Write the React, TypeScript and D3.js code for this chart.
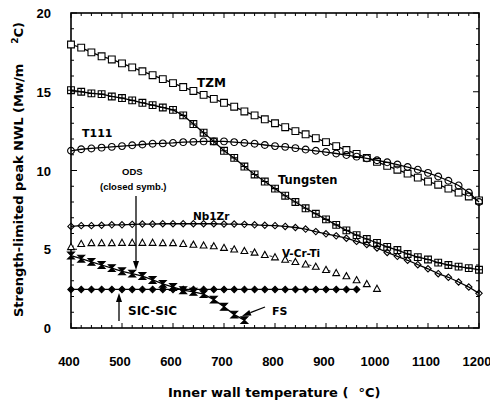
import React, { useRef, useEffect } from "react";
import * as d3 from "d3";

// inner wall temperature grid (°C)
const temps = [
  400, 420, 440, 460, 480, 500, 520, 540, 560, 580, 600, 620, 640, 660, 680, 700,
  720, 740, 760, 780, 800, 820, 840, 860, 880, 900, 920, 940, 960, 980, 1000,
  1020, 1040, 1060, 1080, 1100, 1120, 1140, 1160, 1180, 1200,
];

// strength-limited peak NWL (MW/m2), one value per temperature
const tzm = [
  18.0, 17.8, 17.5, 17.25, 17.05, 16.8, 16.55, 16.3, 16.05, 15.8, 15.55, 15.3,
  15.05, 14.8, 14.55, 14.3, 14.05, 13.75, 13.5, 13.25, 13.0, 12.75, 12.5, 12.3,
  12.05, 11.8, 11.55, 11.3, 11.05, 10.8, 10.55, 10.3, 10.05, 9.8, 9.55, 9.3,
  9.1, 8.85, 8.6, 8.35, 8.1,
];
const tungsten = [
  15.1, 15.0, 14.9, 14.85, 14.7, 14.6, 14.45, 14.3, 14.15, 14.0, 13.85, 13.5,
  12.95, 12.4, 11.85, 11.25, 10.8, 10.25, 9.75, 9.3, 8.85, 8.4, 8.0, 7.6, 7.25,
  6.9, 6.55, 6.2, 5.9, 5.65, 5.4, 5.15, 4.95, 4.7, 4.5, 4.35, 4.15, 4.0, 3.9,
  3.8, 3.7,
];
const t111 = [
  11.25, 11.35, 11.4, 11.45, 11.5, 11.55, 11.6, 11.65, 11.7, 11.72, 11.75, 11.8,
  11.82, 11.85, 11.85, 11.85, 11.8, 11.75, 11.7, 11.62, 11.55, 11.5, 11.42,
  11.33, 11.25, 11.17, 11.08, 10.98, 10.88, 10.77, 10.65, 10.52, 10.38, 10.22,
  10.05, 9.85, 9.62, 9.35, 9.05, 8.6, 8.0,
];
const nb1zr = [
  6.45, 6.5, 6.5, 6.52, 6.55, 6.55, 6.58, 6.6, 6.6, 6.62, 6.62, 6.62, 6.62,
  6.62, 6.62, 6.6, 6.6, 6.58, 6.55, 6.52, 6.5, 6.45, 6.38, 6.28, 6.12, 5.98,
  5.85, 5.7, 5.5, 5.3, 5.08, 4.8, 4.55, 4.3, 4.02, 3.76, 3.45, 3.22, 2.92, 2.6,
  2.2,
];
// 400..1000
const vcrti = [
  5.15, 5.35, 5.4, 5.4, 5.4, 5.42, 5.42, 5.42, 5.42, 5.4, 5.4, 5.35, 5.3, 5.25,
  5.2, 5.1, 5.0, 4.9, 4.8, 4.65, 4.5, 4.35, 4.2, 4.05, 3.9, 3.7, 3.5, 3.3, 3.05,
  2.8, 2.5,
];
// 400..960
const sicsic = [
  2.45, 2.45, 2.45, 2.45, 2.45, 2.45, 2.45, 2.45, 2.45, 2.45, 2.45, 2.45, 2.45,
  2.45, 2.45, 2.45, 2.45, 2.45, 2.45, 2.45, 2.45, 2.45, 2.45, 2.45, 2.45, 2.45,
  2.45, 2.45, 2.45,
];
// 400..740
const fs = [
  4.6, 4.4, 4.2, 4.0, 3.8, 3.6, 3.45, 3.3, 3.05, 2.8, 2.6, 2.4, 2.3, 2.15, 1.8,
  1.35, 0.85, 0.5,
];

const xTicks = [400, 500, 600, 700, 800, 900, 1000, 1100, 1200];
const yTicks = [0, 5, 10, 15, 20];

const seriesList = [
  { name: "TZM", values: tzm, marker: "square", line: "solid" },
  { name: "Tungsten", values: tungsten, marker: "squarePlus", line: "solid" },
  { name: "T111", values: t111, marker: "circle", line: "solid" },
  { name: "Nb1Zr", values: nb1zr, marker: "diamond", line: "solid" },
  { name: "V-Cr-Ti", values: vcrti, marker: "triangle", line: "sparse" },
  { name: "SiC-SiC", values: sicsic, marker: "diamondFilled", line: "solid" },
  { name: "FS", values: fs, marker: "bowtie", line: "solid" },
];

const markerPath = (type: string, r: number) => {
  switch (type) {
    case "square":
      return `M${-r},${-r}h${2 * r}v${2 * r}h${-2 * r}Z`;
    case "squarePlus":
      return `M${-r},${-r}h${2 * r}v${2 * r}h${-2 * r}ZM${-r},0h${2 * r}M0,${-r}v${2 * r}`;
    case "circle":
      return `M${r},0A${r},${r} 0 1,1 ${-r},0A${r},${r} 0 1,1 ${r},0Z`;
    case "diamond":
    case "diamondFilled":
      return `M0,${-r}L${r},0L0,${r}L${-r},0Z`;
    case "triangle":
      return `M0,${-r}L${r},${r * 0.8}L${-r},${r * 0.8}Z`;
    case "bowtie":
      return `M${-r},${-r}L${r},${-r}L0,0L${r},${r}L${-r},${r}L0,0Z`;
    default:
      return "";
  }
};

const App = () => {
  const svgRef = useRef(null);

  useEffect(() => {
    const svg = d3.select(svgRef.current);
    svg.selectAll("*").remove();

    const left = 71, right = 479, top = 13, bottom = 328;
    const x = d3.scaleLinear().domain([400, 1200]).range([left, right]);
    const y = d3.scaleLinear().domain([0, 20]).range([bottom, top]);

    const g = svg.append("g");

    // frame
    g.append("rect")
      .attr("x", left).attr("y", top)
      .attr("width", right - left).attr("height", bottom - top)
      .attr("fill", "none").attr("stroke", "#000").attr("stroke-width", 1.6);

    // inward ticks on all four sides
    const xMinor = d3.range(400, 1201, 20);
    const yMinor = d3.range(0, 20.01, 1);
    xMinor.forEach((t) => {
      const len = t % 100 === 0 ? 5 : 3;
      g.append("line").attr("x1", x(t)).attr("x2", x(t))
        .attr("y1", bottom).attr("y2", bottom - len).attr("stroke", "#000");
      g.append("line").attr("x1", x(t)).attr("x2", x(t))
        .attr("y1", top).attr("y2", top + len).attr("stroke", "#000");
    });
    yMinor.forEach((v) => {
      const len = v % 5 === 0 ? 6 : 3;
      g.append("line").attr("y1", y(v)).attr("y2", y(v))
        .attr("x1", left).attr("x2", left + len).attr("stroke", "#000");
      g.append("line").attr("y1", y(v)).attr("y2", y(v))
        .attr("x1", right).attr("x2", right - len).attr("stroke", "#000");
    });

    // tick labels
    g.selectAll(".xl").data(xTicks).enter().append("text")
      .attr("x", (d) => x(d) - 2).attr("y", 366)
      .attr("text-anchor", "middle")
      .attr("font-family", "Liberation Sans, Arial, sans-serif")
      .attr("font-weight", "bold").attr("font-size", 13)
      .text((d) => d);
    g.selectAll(".yl").data(yTicks).enter().append("text")
      .attr("x", 51).attr("y", (d) => y(d) + 5)
      .attr("text-anchor", "end")
      .attr("font-family", "Liberation Sans, Arial, sans-serif")
      .attr("font-weight", "bold").attr("font-size", 13)
      .text((d) => d);

    // axis titles
    const xt = g.append("text").attr("x", 168).attr("y", 397)
      .attr("font-family", "DejaVu Sans, sans-serif")
      .attr("font-weight", "bold").attr("font-size", 13);
    xt.append("tspan").text("Inner wall temperature (");
    xt.append("tspan").attr("dx", 10).text("°C)");

    const yt = g.append("text")
      .attr("transform", "translate(23,317) rotate(-90)")
      .attr("font-family", "DejaVu Sans, sans-serif")
      .attr("font-weight", "bold").attr("font-size", 13);
    yt.append("tspan").text("Strength-limited peak NWL (Mw/m");
    yt.append("tspan").attr("dx", 20).attr("dy", -5).attr("font-size", 9).text("2");
    yt.append("tspan").attr("dy", 5).text("C)");

    // series
    seriesList.forEach((s) => {
      const pts = s.values.map((v, i) => [temps[i], v]);
      const line = d3.line().x((d) => x(d[0])).y((d) => y(d[1]));
      g.append("path")
        .datum(pts)
        .attr("d", line)
        .attr("fill", "none")
        .attr("stroke", "#000")
        .attr("stroke-width", s.line === "sparse" ? 0.9 : 1.3)
        .attr("stroke-dasharray", s.line === "sparse" ? "3,17" : null);

      const filled = s.marker === "diamondFilled" || s.marker === "bowtie";
      const r = s.marker === "diamond" || s.marker === "diamondFilled" ? 3.2 : 3.4;
      g.selectAll(null).data(pts).enter().append("path")
        .attr("d", markerPath(s.marker, r))
        .attr("transform", (d) => `translate(${x(d[0])},${y(d[1])})`)
        .attr("fill", filled ? "#000" : s.marker === "triangle" || s.marker === "square" ? "#fff" : "none")
        .attr("stroke", "#000")
        .attr("stroke-width", 1.1);
    });

    // annotations
    const labels = [
      { t: "TZM", x: 197, y: 87, size: 12, font: "DejaVu Sans" },
      { t: "T111", x: 82, y: 137, size: 11, font: "DejaVu Sans" },
      { t: "ODS", x: 122, y: 175, size: 9.5, font: "Liberation Sans" },
      { t: "(closed symb.)", x: 100, y: 190, size: 9.5, font: "Liberation Sans" },
      { t: "Tungsten", x: 278, y: 184, size: 11.5, font: "DejaVu Sans" },
      { t: "Nb1Zr", x: 193, y: 220, size: 10.5, font: "DejaVu Sans" },
      { t: "V-Cr-Ti", x: 282, y: 257, size: 10.5, font: "DejaVu Sans" },
      { t: "SIC-SIC", x: 128, y: 315, size: 12, font: "DejaVu Sans" },
      { t: "FS", x: 272, y: 315, size: 11, font: "DejaVu Sans" },
    ];
    labels.forEach((l) => {
      g.append("text").attr("x", l.x).attr("y", l.y)
        .attr("font-family", `${l.font}, sans-serif`)
        .attr("font-weight", "bold").attr("font-size", l.size)
        .text(l.t);
    });

    // arrows
    const arrow = (x1, y1, x2, y2) => {
      const ang = Math.atan2(y2 - y1, x2 - x1);
      const hl = 9, hw = 3;
      const bx = x2 - hl * Math.cos(ang), by = y2 - hl * Math.sin(ang);
      g.append("line").attr("x1", x1).attr("y1", y1).attr("x2", bx).attr("y2", by)
        .attr("stroke", "#000").attr("stroke-width", 1.3);
      g.append("path")
        .attr("d", `M${x2},${y2}L${bx - hw * Math.sin(ang)},${by + hw * Math.cos(ang)}L${bx + hw * Math.sin(ang)},${by - hw * Math.cos(ang)}Z`)
        .attr("fill", "#000");
    };
    arrow(136, 196, 136, 270);
    arrow(119, 321, 119, 293);
    arrow(265, 307, 242, 316);
  }, []);

  return (
    <svg
      ref={svgRef}
      width={490}
      height={400}
      style={{ position: "absolute", left: 0, top: 0, background: "#fff" }}
    />
  );
};

export default App;
